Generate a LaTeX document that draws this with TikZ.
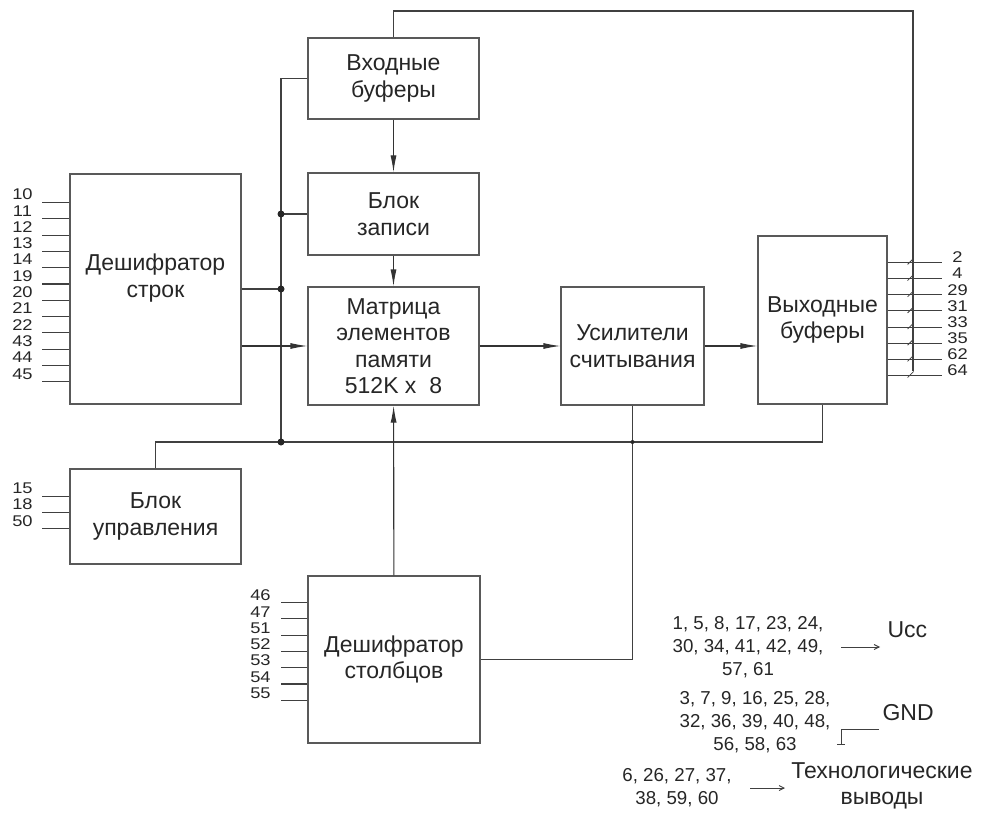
\documentclass[tikz,border=0pt]{standalone}
\usepackage{fontspec}
\setmainfont{Liberation Sans}
\newfontfamily\pinfont[FakeStretch=1.18]{Liberation Sans}
\usetikzlibrary{arrows.meta}

\begin{document}
\begin{tikzpicture}[
  x=1pt, y=-1pt,
  >={Latex[length=17pt, width=6pt]},
  every node/.style={font=\fontsize{23}{26.5}\selectfont, text=black!85},
  blockbox/.style={draw=black!65, line width=1.1pt, align=center, inner sep=0pt},
  wire/.style={draw=black!75, line width=1.1pt},
  arr/.style={wire, ->, draw=black!80},
  sarr/.style={draw=black!75, line width=0.9pt, -{Straight Barb[length=5pt, width=5pt]}},
  pinlbl/.style={font=\pinfont\fontsize{15.5}{15.5}\selectfont, inner sep=0pt},
  pinlist/.style={font=\fontsize{18.7}{23}\selectfont, align=center, inner sep=0pt},
  dot/.style={fill=black!85},
]
\useasboundingbox (0,0) rectangle (981,834);

%% ── Blocks ──────────────────────────────────────────────────────────────────
\node[blockbox, minimum width=171pt, minimum height=81pt] (inbuf) at (393.5, 78.5)
  {Входные\\буферы};
\node[blockbox, minimum width=171pt, minimum height=82pt] (wrblk) at (393.5, 214)
  {Блок\\записи};
\node[blockbox, minimum width=171pt, minimum height=118pt] (matrix) at (393.5, 346)
  {Матрица\\элементов\\памяти\\512K x~~8};
\node[blockbox, minimum width=171pt, minimum height=230pt] (rowdec) at (155.5, 289) {};
\node[align=center] (rowdectxt) at ([yshift=11pt]rowdec.center)
  {Дешифратор\\строк};
\node[blockbox, minimum width=171pt, minimum height=95pt] (ctrl) at (155.5, 516.5)
  {Блок\\управления};
\node[blockbox, minimum width=172pt, minimum height=167pt] (coldec) at (394, 659.5)
  {Дешифратор\\столбцов};
\node[blockbox, minimum width=143pt, minimum height=118pt] (amp) at (632.5, 346)
  {Усилители\\считывания};
\node[blockbox, minimum width=129pt, minimum height=168pt] (outbuf) at (822.5, 320)
  {Выходные\\буферы};

%% ── Buses ───────────────────────────────────────────────────────────────────
\coordinate (lbus)  at (281, 442);
\coordinate (fbtop) at (913, 11);
\coordinate (fbbot) at (913, 371);

\draw[wire] (inbuf.west) -| (lbus);
\draw[wire] (wrblk.west) -- (wrblk.west -| lbus);
\draw[wire] (rowdec.east) -- (rowdec.east -| lbus);
\draw[wire] (ctrl.north) |- (lbus -| outbuf.south) -- (outbuf.south);
\draw[wire] (amp.south) |- (coldec.east);
\draw[wire] (inbuf.north) |- (fbtop) -- (fbbot);

\fill[dot] (wrblk.west -| lbus) circle (3.5pt);
\fill[dot] (rowdec.east -| lbus) circle (3.5pt);
\fill[dot] (lbus) circle (3.5pt);
\fill[dot] (amp.south |- lbus) circle (2pt);

%% ── Data path ───────────────────────────────────────────────────────────────
\draw[arr] (rowdec.east |- matrix.west) -- (matrix.west);
\draw[arr] (inbuf) -- (wrblk);
\draw[arr] (wrblk) -- (matrix);
\draw[arr] (coldec) -- (matrix);
\draw[arr] (matrix) -- (amp);
\draw[arr] (amp.east) -- (amp.east -| outbuf.west);

%% ── Pins ────────────────────────────────────────────────────────────────────
\foreach \lbl [count=\i from 0] in {10,11,12,13,14,19,20,21,22,43,44,45} {
  \coordinate (rp\i) at ([yshift={-(29+16.3*\i)*1pt}]rowdec.north west);
  \draw[wire] (rp\i) -- ++(-27,0);
  \path (rp\i) ++(-47,-8) node[pinlbl] {\lbl};
}
\foreach \lbl [count=\i from 0] in {15,18,50} {
  \coordinate (cp\i) at ([yshift={-(28+16.2*\i)*1pt}]ctrl.north west);
  \draw[wire] (cp\i) -- ++(-27,0);
  \path (cp\i) ++(-47,-8) node[pinlbl] {\lbl};
}
\foreach \lbl [count=\i from 0] in {46,47,51,52,53,54,55} {
  \coordinate (kp\i) at ([yshift={-(27+16.3*\i)*1pt}]coldec.north west);
  \draw[wire] (kp\i) -- ++(-26,0);
  \path (kp\i) ++(-47,-7) node[pinlbl] {\lbl};
}
\foreach \lbl [count=\i from 0] in {2,4,29,31,33,35,62,64} {
  \coordinate (op\i) at ([yshift={-(27+16.15*\i)*1pt}]outbuf.north east);
  \draw[wire] (op\i) -- ++(54,0);
  \draw[wire, line width=0.8pt] (op\i) ++(20,2) -- ++(6,-6);
  \path (op\i) ++(70,-5) node[pinlbl] {\lbl};
}

%% ── Supply and spare pins ───────────────────────────────────────────────────
\node[pinlist] (vccpins) at (748, 647)
  {1, 5, 8, 17, 23, 24,\\30, 34, 41, 42, 49,\\57, 61};
\node[anchor=base west] (ucc) at (884, 637) {Ucc};
\coordinate (uccA) at (841, 647);
\coordinate (uccB) at (880, 647);
\draw[sarr] (uccA) -- (uccB);

\node[pinlist] (gndpins) at (755, 722)
  {3, 7, 9, 16, 25, 28,\\32, 36, 39, 40, 48,\\56, 58, 63};
\node[anchor=base west] (gnd) at (879, 720) {GND};
\coordinate (gndA) at (879, 729);
\coordinate (gndB) at (841, 744);
\draw[wire, line width=0.9pt] (gndA) -| (gndB) ++(-4,0) -- ++(8,0);

\node[pinlist] (techpins) at (677, 788) {6, 26, 27, 37,\\38, 59, 60};
\node[align=center] (techout) at (882, 786) {Технологические\\выводы};
\coordinate (techA) at (750, 788);
\coordinate (techB) at (785, 788);
\draw[sarr] (techA) -- (techB);

\end{tikzpicture}
\end{document}
